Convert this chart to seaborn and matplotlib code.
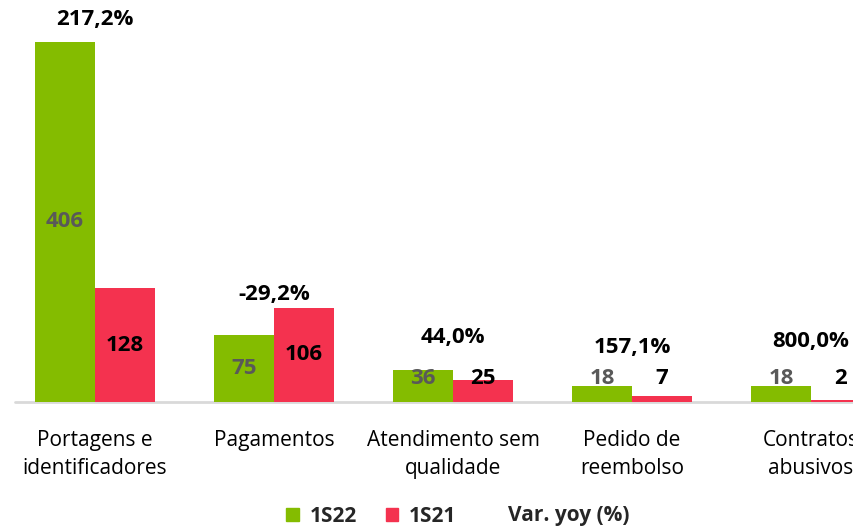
import matplotlib
matplotlib.use('Agg')
import matplotlib.pyplot as plt
from matplotlib.patches import Patch
from matplotlib.lines import Line2D
import seaborn as sns
import pandas as pd

categories = ['Portagens e\nidentificadores', 'Pagamentos', 'Atendimento sem\nqualidade',
              'Pedido de\nreembolso', 'Contratos\nabusivos']
s1s22 = [406, 75, 36, 18, 18]
s1s21 = [128, 106, 25, 7, 2]
yoy_labels = ['217,2%', '-29,2%', '44,0%', '157,1%', '800,0%']
series_names = ['1S22', '1S21']

# layout: heights (data units) of the yoy labels, as in the source chart
yoy_label_pos = [431, 121, 73, 61, 68]

green = '#84BC00'
red = '#F4324F'

sns.set_theme(style='white')
plt.rcParams['font.family'] = ['Open Sans', 'DejaVu Sans']

df = pd.DataFrame({
    'category': categories * 2,
    'value': s1s22 + s1s21,
    'series': [series_names[0]] * 5 + [series_names[1]] * 5,
})

fig = plt.figure(figsize=(8.54, 5.27), dpi=100)
ax = fig.add_axes([0, 125 / 527, 1, 402 / 527])
sns.barplot(data=df, x='category', y='value', hue='series', palette=[green, red],
            width=0.67, gap=0, ax=ax, legend=False, saturation=1, linewidth=0)

ax.set_xlim(-95 / 179, 759 / 179)
ax.set_ylim(0, 453)
ax.set_xlabel('')
ax.set_ylabel('')
ax.set_yticks([])
for s in ['top', 'right', 'left', 'bottom']:
    ax.spines[s].set_visible(False)
ax.axhline(0, xmin=15 / 854, xmax=1, color='#D9D9D9', lw=2, zorder=0, clip_on=False)
ax.tick_params(axis='x', length=0, pad=20, labelsize=15, labelcolor='black')
for t in ax.get_xticklabels():
    t.set_linespacing(1.45)

# value labels
min_h = 26
for cont, vals, col in [(ax.containers[0], s1s22, '#595959'), (ax.containers[1], s1s21, 'black')]:
    for bar, v in zip(cont, vals):
        cx = bar.get_x() + bar.get_width() / 2
        ax.text(cx, max(v / 2, min_h), str(v), ha='center', va='center',
                fontsize=16, fontweight='bold', color=col)

for i, (lab, pos) in enumerate(zip(yoy_labels, yoy_label_pos)):
    ax.text(i, pos, lab, ha='center', va='center', fontsize=16, fontweight='bold', color='black')

handles = [Patch(color=green), Patch(color=red), Line2D([], [], color='none')]
fig.legend(handles, series_names + ['Var. yoy (%)'], loc='center', bbox_to_anchor=(458 / 854, 1 - 516 / 527),
           ncol=3, frameon=False, handlelength=0.6, handleheight=0.6, handletextpad=0.5,
           columnspacing=1.4, prop={'size': 15, 'weight': 'bold'})

fig.savefig('out.png', dpi=100)
